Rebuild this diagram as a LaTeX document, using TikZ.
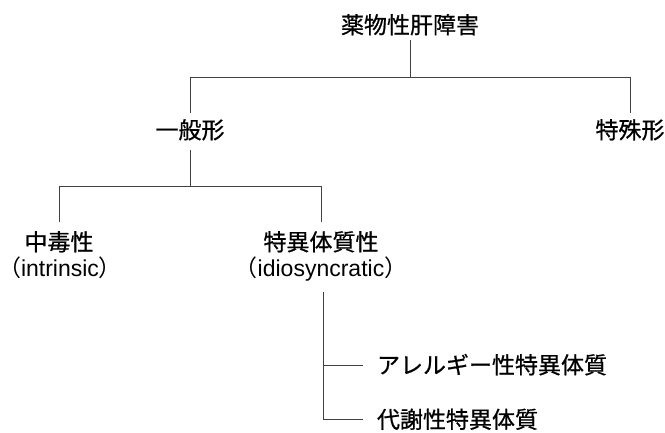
\documentclass[tikz,border=0pt]{standalone}
\usepackage{fontspec}
\setmainfont{Liberation Sans}
\newfontfamily\jp[FakeBold=0.7]{Noto Sans CJK JP}
\newfontfamily\jpp{Noto Sans CJK JP}
\begin{document}
\begin{tikzpicture}[x=1pt,y=-1pt,
  lbl/.style={inner sep=0pt, outer sep=0pt, text height=19pt, text depth=2pt,
    font=\fontsize{23pt}{27pt}\selectfont\jp, anchor=base},
  lat/.style={inner sep=0pt, outer sep=0pt, text height=19pt, text depth=2pt,
    font=\fontsize{23pt}{27pt}\selectfont, anchor=base},
  conn/.style={draw=black!75, line width=1pt}]
\useasboundingbox (0,0) rectangle (665,432);
% nodes
\node[lbl] (root) at (410,33.5) {薬物性肝障害};
\node[lbl] (ippan) at (190,138.5) {一般形};
\node[lbl] (tokushu) at (630,138.5) {特殊形};
\node[lbl] (chudoku) at (59,250.5) {中毒性};
\node[lbl] (tokui) at (321,250.5) {特異体質性};
\node[lat] (intr) at (60,276) {\kern-12pt{\jpp （}intrinsic{\jpp ）}\kern-12pt};
\node[lat] (idio) at (321,276) {\kern-12pt{\jpp （}idiosyncratic{\jpp ）}\kern-12pt};
\node[lbl, anchor=base west] (allergy) at (377,373.5) {アレルギー性特異体質};
\node[lbl, anchor=base west] (taisha) at (377,428) {代謝性特異体質};
% junctions
\coordinate (j0) at (410,77);
\coordinate (j1) at (190,186);
\coordinate (k) at (323,292);
% connectors
\draw[conn, shorten <=4.5pt] (root.south) -- (j0);
\draw[conn, shorten >=6.5pt] (j0) -| (ippan.north);
\draw[conn, shorten >=6.5pt] (j0) -| (tokushu.north);
\draw[conn, shorten <=9.5pt] (ippan.south) -- (j1);
\draw[conn, shorten >=9.5pt] (j1) -| (chudoku.north);
\draw[conn, shorten >=9.5pt] (j1) -| (tokui.north);
\draw[conn, shorten >=14pt] (k) |- (allergy.west);
\draw[conn, shorten >=14pt] (k) |- (taisha.west);
\end{tikzpicture}
\end{document}
